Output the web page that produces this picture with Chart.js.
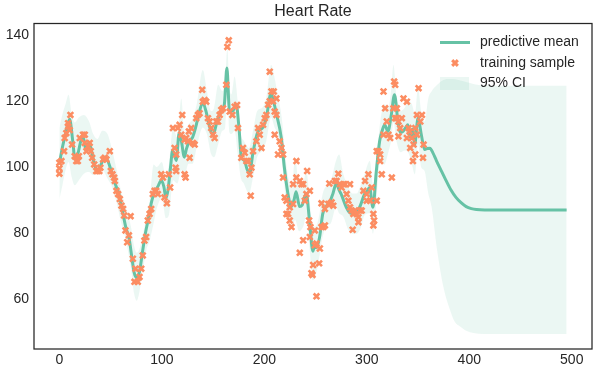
<!DOCTYPE html>
<html><head><meta charset="utf-8">
<script src="https://cdn.jsdelivr.net/npm/chart.js@4"></script>
<style>html,body{margin:0;padding:0;background:#fff}canvas{display:block}</style>
</head><body>
<canvas id="c" width="599" height="374"></canvas>
<script>
const chartTitle = 'Heart Rate';
const seriesLabels = ['predictive mean', 'training sample', '95% CI'];
const xTicks = [0, 100, 200, 300, 400, 500];
const yTicks = [60, 80, 100, 120, 140];

const sampleX = [0,0,0,2,4.6,5.2,6.8,8.5,8.5,10.1,10.8,12.4,15,16.5,18,19,19.9,23.1,24.8,24.8,26.4,28,29.6,30.6,32,34,36,37.5,39,40,42.7,44.3,45.9,49.2,50.2,51.8,53.4,54.1,55.7,57.3,59,60.6,62.2,63.2,64.5,66.2,67.8,69.5,71.7,73.3,74.3,76.5,78.2,79.9,81.4,83,84.7,86.3,88,89.6,91.2,92.9,94.5,96.1,99.4,101,102.6,104.9,106.8,108.1,110.8,112.4,113.4,114,114,115.6,117.3,118.9,119.9,122.2,122.2,123.2,123.8,125.5,126.4,127.1,128.7,130.3,132,133.6,135.2,136.8,139.4,140,141.7,143.3,145,146.6,148.2,149.9,151.5,153.1,154.8,156.4,158,159.7,162.9,163.9,165.3,166.2,168.8,171.1,173.4,174.3,177.6,179.2,180.9,182.5,184.1,185.7,186.7,187.4,189,192.3,193.9,195.5,197.2,198.8,200.4,202,203.7,205.3,205.3,206.9,208.5,209.2,210.1,210.1,211.8,211.8,213.4,215,216.7,218.3,218.3,219.9,221.6,221.6,223.2,224.8,224.8,226.5,228.1,228.1,231.3,231.3,234.6,234.6,236.2,237.9,237.9,239.5,241.1,241.8,243.7,244.4,244.4,245,246,247,247.6,249.3,249.3,250.9,250.9,253.5,254.2,255.8,255.8,257.5,259.1,259.1,262.4,263.4,264,265.6,267.3,268.9,270.5,272.2,273.8,275.4,277.1,278.7,280.3,282,283.6,283.6,285.2,286.2,286.9,288.5,290.1,291.8,291.8,293.4,295,296.7,298.3,299.9,299.9,301.5,303.2,304.8,306.4,306.4,307.1,309.7,309.7,311.4,313,313,314.6,316.3,316.3,317.9,319.5,321.1,322.8,324.4,326,326.7,327.7,327.7,329.3,329.3,330.9,330.9,332.6,334.2,335.8,339.1,339.1,340.7,341.7,342.4,344,345,345.6,347.3,347.3,348.9,348.9,350.5,352.2,353.8,354.8,355.4];
const sampleY = [101.3,99.6,98,101.8,104.8,108.8,110.3,112.3,113.3,111.2,115.8,106.8,103.3,101.8,101.8,103.3,108.8,109.8,109.8,107.3,104.8,106.3,107.3,104.8,102.8,100.8,98.8,98.8,98.8,99.8,102.3,102.8,102.3,104.8,98.8,97.8,96.8,95.8,92.8,91.8,90.3,88.3,87.3,85.3,80.8,77.2,79.3,85.1,72.2,65.2,69.2,65.2,66.7,69.2,73.2,77.7,78.8,83.8,85.8,87.3,91.8,92.8,92.8,91.8,97.8,96.8,90.8,89,97.8,93.8,111.8,105.8,99.8,98.8,103.8,111.8,112.8,109.8,115.8,108.3,97.8,96.8,108.8,107.8,110.8,102.8,111.8,107.3,106.8,114.8,115.8,116.3,123.4,119.8,120.3,119.8,114.8,113.8,111.8,109.8,108.8,113.8,113.8,115.8,117.3,117.8,124.9,136.4,138.4,116.8,115.8,118.3,118.8,111.8,102.8,105.8,104.3,101.8,101.8,97.8,91.3,99.8,104.8,107.8,111.8,109.8,105.8,112.8,114.8,115.8,118.9,128.9,119.9,122.9,119.9,122.9,116.8,109.8,120.8,115.8,103.8,107.8,105.8,96.8,103.8,90.8,89.8,85.8,85.8,83.8,87.8,81.8,88.8,94.8,101.8,96.8,95.8,74,94.8,94.8,77.8,89.8,91.8,98.8,83.8,92.8,78.8,81.8,67.8,67.3,70.3,80.8,76.3,76.8,60.8,70.8,75.3,81.8,89,81.8,82.3,87.3,88.8,95,88.8,89.3,88.3,95.8,95.8,98,94.8,93.8,94.8,94.8,91.8,89.8,94.8,87.8,86.8,81,85.8,86.8,85.8,84.8,83.3,86.8,86.8,92.8,95.8,91.8,89.8,97.8,89.8,93.8,85.8,82.3,83.8,89.8,104.8,104.8,103.8,101.8,97.8,109.8,122.9,117.8,113.8,109.8,108.8,96.8,117.8,125.9,124.9,114.8,117.8,114.8,113.8,109.3,111.8,114.8,120.8,119.8,108.8,111.8,110.8,105.8,108.8,101.8,106.8,111.8,103.8,109.8,115.8,123.9,113.8,115.8,102.8,106.8];

const meanX = [0,3,6,10,13,15,18,21,23,26,29,32,35,38,41,44,47,51,55,58,62,65,68,71,73,75.5,78,81,84,87,90,93,96,99.5,102,104,106,108.5,110.5,112,114,117,119,122,124,127,130,133,136,140,143,146,149,151,154,158,161,163.5,166,169,172.5,175.5,177.5,180.5,183,185.5,189,193.5,198.5,202,206.5,209,211.5,216.5,219.5,223,226.3,229,231,234.4,237,240.9,244,247.4,249,250.7,253.9,257,260,263.7,267,270.2,273,275,280,284,288,293,297.9,300,302.7,306,309.3,312.5,315,317.4,320.6,323.9,327,330.4,333,335.3,338,340.1,342,345,346.7,350,353.2,356.4,359,361.5,364.5,368,372,377,382,387,392,397,402,407,415,440,460,480,495];
const meanY = [101,106,110,114.5,108,103,104,108,109.5,105,107.5,104,100,99,101,103,102,98.5,94.5,92,86,81.5,78.5,72,68,66.5,68,74,80,84.5,89.5,92.5,94,96,94,90.5,93,100,105,104,102,110.5,108,103,105.5,108,109,112,116,119.5,117,113,110,110.5,114,117,119,130,117,117,119,111,103,102,99.5,98,104.5,110.5,112,115,122.3,120,116.5,109,100,92,88,90,92.5,88,88.5,92,84,74.5,76,75.5,78.7,85.8,88,89.3,92,95,93,91.8,87.8,86,85.8,87.8,91.8,92.5,93.8,87.8,98.8,107.8,111,112.8,110.8,115.8,121.9,113.8,110.5,110.8,112,112.8,109,111.5,106.8,114.8,109.8,105.3,105.6,105.7,104.3,101.9,99.3,96.1,93.1,90.8,89.2,88,87.4,87.1,87,87,87,87,87];

const ciX = [0,3,6,9,12,15,19,24,29,33,37,42,47,52,56,60,65,70,73,75.5,78,81,85,88,92,95,100,104,107,111,115,119,122,126,130,134,140,144,148,151,155,159,161.5,163.9,166,168,171,174,177,180,185,189,193,198,202,206.7,210,213,217,220,223,227,230,234,238,241,244,247.4,250,253,257,261,265,270,273,277,282,286,290,294,298,303,306,310,313,317,321,324,326,329,333,337,341,344,347,350,353,356.4,360,363.3,368.2,374.7,381.2,386,391,397.6,404,413.8,430,495];
const ciUpper = [111.8,116,119,121.9,116,113.5,115,115.8,113.8,110,108.5,111,110,104.5,99,93,87.8,81.7,76,74,75,78.7,85,89.5,100.8,100,101.5,97,101,112,109,120.8,110,113,114.5,119,129.4,123,117,118,124.9,123,125,135.9,124,122,127.4,120,110,108,105.8,111,117,118,121,130.9,127,122,115,105,97.5,94,102.8,94,95,99,90.5,82,82,84.5,92,94.5,96,102,103.8,98,94,92,92,94.5,98,101.8,94.5,104.5,113.5,119,118,124,130.9,121,117,118,120,119,116,124,117,113.8,120.8,123,124.8,126.4,126.7,126.6,126.2,125.7,125.2,124.7,124.6,124.6];
const ciLower = [90.3,94.5,99,101.5,97,94.5,96,98,98.5,97.5,99,99,96.5,93.5,89,83.5,77.5,69,61.5,59.5,62,67.7,75,77.5,83,87.5,90.5,84.5,85.5,96,95,99,97.5,101,101,106,112,110,104,103,107,111,111.5,122,110.5,110,111,104,96.8,95,91.9,97,103,105,108,115,112,110,102,93,83.8,81.4,84,80.5,82,85,76,65.7,67,71.5,79,82,83,87.8,86,85,81,79.8,79.8,81.5,85.5,86,79.8,92,101.5,100.8,104.5,108.5,113.5,107.8,104.5,105,104,100.8,97.8,107,100,98.8,92,87.8,75.7,63.7,56.7,53,51.7,50.3,49.7,49.4,49.4,49.4];

const TEAL = '#66c2a5', ORANGE = '#fc8d62', BAND = 'rgba(102,194,165,0.13)', INK = '#262626';
const FONT = "'Liberation Sans', Arial, sans-serif";
const zip = (xs, ys) => xs.map((x, i) => ({x: x, y: ys[i]}));

const titlePlacement = {
  id: 'titlePlacement',
  afterLayout(chart) {
    const tb = chart.titleBlock, ca = chart.chartArea;
    if (tb && ca) { tb.left = ca.left; tb.right = ca.right; tb.width = ca.right - ca.left; }
  }
};

const frameAndLegend = {
  id: 'frameAndLegend',
  afterDraw(chart) {
    const ctx = chart.ctx, ca = chart.chartArea;
    ctx.save();
    ctx.strokeStyle = INK;
    ctx.lineWidth = 1.25;
    ctx.strokeRect(ca.left, ca.top, ca.right - ca.left, ca.bottom - ca.top);
    const lx = ca.right - 152, tx = ca.right - 112;
    const rows = [ca.top + 19, ca.top + 39.5, ca.top + 60];
    ctx.strokeStyle = TEAL; ctx.lineWidth = 3;
    ctx.beginPath(); ctx.moveTo(lx, rows[0]); ctx.lineTo(lx + 30, rows[0]); ctx.stroke();
    ctx.strokeStyle = ORANGE; ctx.fillStyle = ORANGE;
    Chart.helpers.drawPoint(ctx, {pointStyle: 'crossRot', radius: 4, borderWidth: 2.6}, lx + 15, rows[1]);
    ctx.fillStyle = BAND;
    ctx.fillRect(lx, rows[2] - 6.5, 29, 13);
    ctx.fillStyle = INK;
    ctx.font = '14px ' + FONT;
    ctx.textBaseline = 'middle';
    ctx.textAlign = 'left';
    ctx.fillText(seriesLabels[0], tx, rows[0]);
    ctx.fillText(seriesLabels[1], tx, rows[1]);
    ctx.fillText(seriesLabels[2], tx, rows[2]);
    ctx.restore();
  }
};

new Chart(document.getElementById('c'), {
  type: 'line',
  data: {
    datasets: [
      {label: seriesLabels[1], data: zip(sampleX, sampleY), showLine: false,
       pointStyle: 'crossRot', pointRadius: 4, pointBorderWidth: 2.6,
       pointBorderColor: ORANGE, pointBackgroundColor: ORANGE, borderColor: ORANGE, order: 0},
      {label: seriesLabels[0], data: zip(meanX, meanY), borderColor: TEAL, borderWidth: 3,
       pointRadius: 0, cubicInterpolationMode: 'monotone', fill: false, order: 1},
      {label: seriesLabels[2], data: zip(ciX, ciUpper), borderColor: 'rgba(0,0,0,0)', borderWidth: 0,
       pointRadius: 0, fill: '+1', backgroundColor: BAND, cubicInterpolationMode: 'monotone', order: 2},
      {label: '95% CI lower', data: zip(ciX, ciLower), borderColor: 'rgba(0,0,0,0)', borderWidth: 0,
       pointRadius: 0, fill: false, cubicInterpolationMode: 'monotone', order: 3}
    ]
  },
  options: {
    responsive: false, animation: false, devicePixelRatio: 1,
    layout: {padding: {left: 0, right: 7, top: 0, bottom: 0}},
    plugins: {
      legend: {display: false}, tooltip: {enabled: false},
      title: {display: true, text: chartTitle, color: INK,
              font: {family: FONT, size: 16, weight: 'normal'}, padding: {top: 2, bottom: 2.3}}
    },
    scales: {
      x: {type: 'linear', min: -24.75, max: 519.75,
          grid: {display: false, drawTicks: false}, border: {display: false},
          ticks: {color: INK, font: {family: FONT, size: 14}, padding: 3, autoSkip: false, maxRotation: 0},
          afterBuildTicks: s => { s.ticks = xTicks.map(v => ({value: v})); },
          afterFit: s => { s.height = 25; }},
      y: {type: 'linear', min: 44.85, max: 143.5,
          grid: {display: false, drawTicks: false}, border: {display: false},
          ticks: {color: INK, font: {family: FONT, size: 14}, padding: 5},
          afterBuildTicks: s => { s.ticks = yTicks.map(v => ({value: v})); },
          afterFit: s => { s.width = 34; }}
    }
  },
  plugins: [titlePlacement, frameAndLegend]
});
</script>
</body></html>
